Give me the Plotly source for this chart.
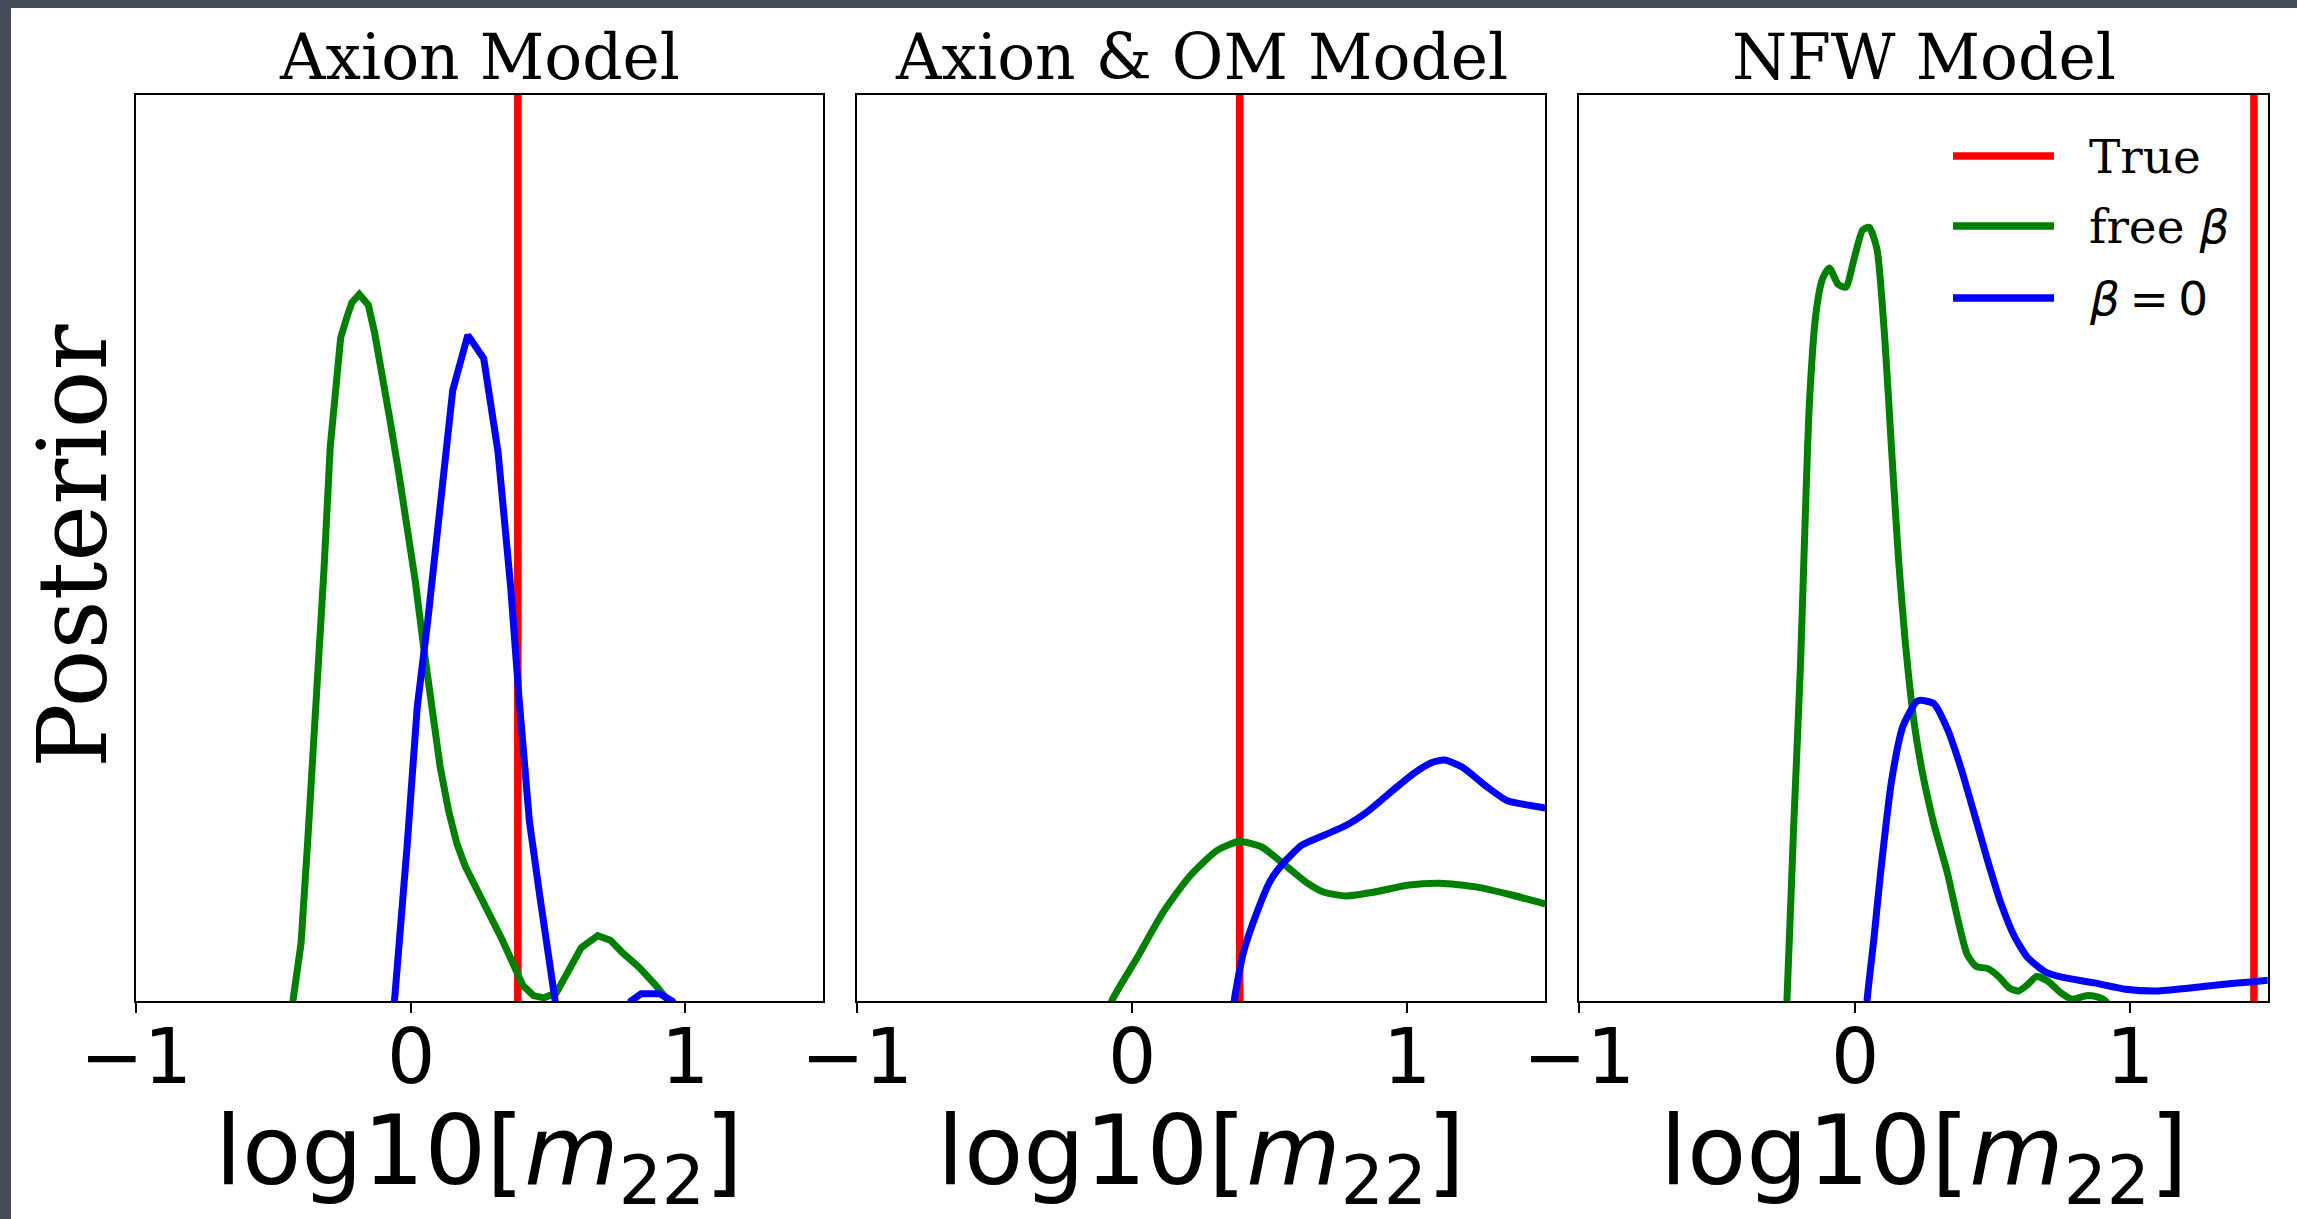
import plotly.graph_objects as go

# ---- posterior curves for log10[m22] (y in units of the shared axis height) ----
panel_titles = ["Axion Model", "Axion &amp; OM Model", "NFW Model"]
true_values = [0.39, 0.39, 1.45]
tick_values = [-1, 0, 1]
tick_labels = ["\u22121", "0", "1"]

axion_free_x = [-0.445, -0.429, -0.399, -0.376, -0.346, -0.316, -0.293, -0.255, -0.232, -0.214, -0.187,
                -0.154, -0.131, -0.104, -0.074, -0.044, -0.013, 0.017, 0.047, 0.077, 0.107, 0.138,
                0.168, 0.198, 0.243, 0.289, 0.334, 0.379, 0.409, 0.447, 0.485, 0.530, 0.576, 0.621,
                0.681, 0.727, 0.772, 0.832, 0.893, 0.938, 0.970]
axion_free_y = [-0.035, 0.0, 0.064, 0.171, 0.314, 0.474, 0.611, 0.732, 0.755, 0.771, 0.780,
                0.768, 0.737, 0.693, 0.639, 0.584, 0.526, 0.463, 0.391, 0.320, 0.259, 0.210,
                0.174, 0.149, 0.122, 0.097, 0.067, 0.037, 0.017, 0.006, 0.0035, 0.009, 0.034, 0.059,
                0.072, 0.067, 0.053, 0.037, 0.017, 0.0, -0.012]

axion_b0_x = [-0.075, -0.059, -0.013, 0.024, 0.062, 0.107, 0.153, 0.208, 0.266, 0.318, 0.364, 0.394,
              0.432, 0.470, 0.500, 0.526, 0.545, 0.790, 0.802, 0.839, 0.907, 0.952, 0.970]
axion_b0_y = [-0.090, 0.0, 0.171, 0.325, 0.419, 0.551, 0.674, 0.735, 0.709, 0.606, 0.457, 0.336,
              0.199, 0.116, 0.050, 0.0, -0.080, -0.020, 0.0, 0.008, 0.008, 0.0, -0.010]

om_free_x = [-0.100, -0.075, 0.014, 0.112, 0.209, 0.307, 0.388, 0.470, 0.551, 0.632, 0.697, 0.778,
             0.876, 1.005, 1.119, 1.249, 1.379, 1.501]
om_free_y = [-0.030, 0.0, 0.046, 0.098, 0.138, 0.166, 0.176, 0.170, 0.151, 0.131, 0.120, 0.116,
             0.120, 0.128, 0.130, 0.126, 0.117, 0.107]

om_b0_x = [0.360, 0.372, 0.404, 0.453, 0.502, 0.551, 0.616, 0.697, 0.778, 0.859, 0.941, 1.022,
           1.087, 1.135, 1.200, 1.282, 1.363, 1.444, 1.501]
om_b0_y = [-0.030, 0.004, 0.054, 0.098, 0.133, 0.153, 0.172, 0.183, 0.194, 0.210, 0.231, 0.251,
           0.263, 0.266, 0.258, 0.238, 0.221, 0.216, 0.213]

nfw_free_x = [-0.260, -0.246, -0.222, -0.197, -0.181, -0.165, -0.141, -0.117, -0.092, -0.060, -0.032,
              -0.003, 0.029, 0.053, 0.081, 0.110, 0.134, 0.159, 0.183, 0.215, 0.248, 0.288, 0.337,
              0.377, 0.409, 0.442, 0.482, 0.523, 0.563, 0.595, 0.628, 0.660, 0.701, 0.749, 0.790,
              0.846, 0.887, 0.911, 0.930]
nfw_free_y = [-0.080, 0.0, 0.189, 0.369, 0.519, 0.656, 0.758, 0.797, 0.809, 0.791, 0.788,
              0.818, 0.851, 0.854, 0.830, 0.728, 0.609, 0.489, 0.399, 0.309, 0.249, 0.195, 0.141,
              0.087, 0.051, 0.038, 0.036, 0.027, 0.014, 0.011, 0.018, 0.027, 0.022, 0.009, 0.002,
              0.006, 0.004, 0.0, -0.010]

nfw_b0_x = [0.035, 0.045, 0.070, 0.094, 0.134, 0.175, 0.223, 0.239, 0.288, 0.337, 0.385, 0.434,
            0.482, 0.531, 0.579, 0.628, 0.693, 0.757, 0.871, 0.984, 1.097, 1.210, 1.324, 1.437, 1.502]
nfw_b0_y = [-0.060, 0.0, 0.069, 0.141, 0.243, 0.303, 0.330, 0.332, 0.328, 0.300, 0.258, 0.207,
            0.156, 0.108, 0.072, 0.048, 0.032, 0.026, 0.020, 0.013, 0.011, 0.014, 0.018, 0.021, 0.023]

free_curves = [(axion_free_x, axion_free_y), (om_free_x, om_free_y), (nfw_free_x, nfw_free_y)]
b0_curves = [(axion_b0_x, axion_b0_y), (om_b0_x, om_b0_y), (nfw_b0_x, nfw_b0_y)]
# smoother rendering for the broad posteriors of the last two panels
curve_shapes = ["linear", "spline", "spline"]

RED, GREEN, BLUE = "#ff0000", "#008000", "#0000ff"
SERIF = "DejaVu Serif"
SANS = "DejaVu Sans"

W, H = 2297, 1219
# panel edges in pixels
x_edges = [(136, 822.7), (857.3, 1545), (1579.3, 2267.7)]
y_top, y_bot = 95, 1001


def px_x(v):
    return v / W


def px_y(v):
    return 1 - v / H


fig = go.Figure()

for i in range(3):
    ax = "" if i == 0 else str(i + 1)
    xa, ya = "x" + ax, "y" + ax
    fx, fy = free_curves[i]
    bx, by = b0_curves[i]
    tv = true_values[i]
    shp = curve_shapes[i]
    fig.add_trace(go.Scatter(x=[tv, tv], y=[0, 1], mode="lines", line=dict(color=RED, width=7.5),
                             xaxis=xa, yaxis=ya, showlegend=False, hoverinfo="skip"))
    fig.add_trace(go.Scatter(x=fx, y=fy, mode="lines",
                             line=dict(color=GREEN, width=7, shape=shp, smoothing=0.6),
                             xaxis=xa, yaxis=ya, showlegend=False))
    fig.add_trace(go.Scatter(x=bx, y=by, mode="lines",
                             line=dict(color=BLUE, width=7, shape=shp, smoothing=0.6),
                             xaxis=xa, yaxis=ya, showlegend=False))

    x0, x1 = x_edges[i]
    fig.layout["xaxis" + ax] = dict(
        domain=[px_x(x0), px_x(x1)], range=[-1, 1.5], anchor=ya, automargin=False,
        showgrid=False, zeroline=False, showline=True, mirror=True,
        linecolor="black", linewidth=2,
        ticks="outside", ticklen=10, tickwidth=2, tickcolor="black",
        tickvals=tick_values, showticklabels=False,
    )
    fig.layout["yaxis" + ax] = dict(
        domain=[px_y(y_bot), px_y(y_top)], range=[0, 1], anchor=xa, automargin=False,
        showgrid=False, zeroline=False, showline=True, mirror=True,
        linecolor="black", linewidth=2, ticks="", showticklabels=False,
    )

    # tick labels placed at the axis tick values
    for tv_, tl in zip(tick_values, tick_labels):
        fig.add_annotation(text=tl, xref=xa, yref="paper", x=tv_, y=px_y(1010),
                           xanchor="center", yanchor="top", showarrow=False,
                           font=dict(family=SANS, size=76, color="black"))

    xc = (x0 + x1) / 2
    # panel title
    fig.add_annotation(text=panel_titles[i], xref="paper", yref="paper",
                       x=px_x(xc), y=px_y(19), xanchor="center", yanchor="top",
                       showarrow=False, font=dict(family=SERIF, size=63, color="black"))
    # x-axis label
    fig.add_annotation(text="log10[<i>m</i><sub>22</sub>]", xref="paper", yref="paper",
                       x=px_x(xc), y=px_y(1092), xanchor="center", yanchor="top",
                       showarrow=False, font=dict(family=SANS, size=97, color="black"))

# y-axis label
fig.add_annotation(text="Posterior", xref="paper", yref="paper", x=px_x(73), y=px_y(546),
                   xanchor="center", yanchor="middle", textangle=-90, showarrow=False,
                   font=dict(family=SERIF, size=96, color="black"))

# legend in the NFW panel
legend_rows = [("True", RED, 156),
               ("free <span style='font-family:DejaVu Sans'><i>\u03b2</i></span>", GREEN, 226),
               ("<span style='font-family:DejaVu Sans'><i>\u03b2</i>\u2009=\u20090</span>", BLUE, 298)]
shapes = []
for label, col, yy in legend_rows:
    shapes.append(dict(type="line", xref="paper", yref="paper", x0=px_x(1953), x1=px_x(2054),
                       y0=px_y(yy), y1=px_y(yy), line=dict(color=col, width=7.5)))
    fig.add_annotation(text=label, xref="paper", yref="paper", x=px_x(2087), y=px_y(yy),
                       xanchor="left", yanchor="middle", showarrow=False,
                       font=dict(family=SERIF, size=47, color="black"))

# dark frame strips along top and left edges
shapes.append(dict(type="rect", xref="paper", yref="paper", x0=0, x1=1, y0=px_y(8), y1=1,
                   fillcolor="#454a57", line=dict(width=0), layer="above"))
shapes.append(dict(type="rect", xref="paper", yref="paper", x0=0, x1=px_x(11), y0=0, y1=1,
                   fillcolor="#454a57", line=dict(width=0), layer="above"))

fig.update_layout(width=W, height=H, margin=dict(l=0, r=0, t=0, b=0, autoexpand=False),
                  paper_bgcolor="white", plot_bgcolor="white", shapes=shapes, showlegend=False)

fig.write_html("out.html")
